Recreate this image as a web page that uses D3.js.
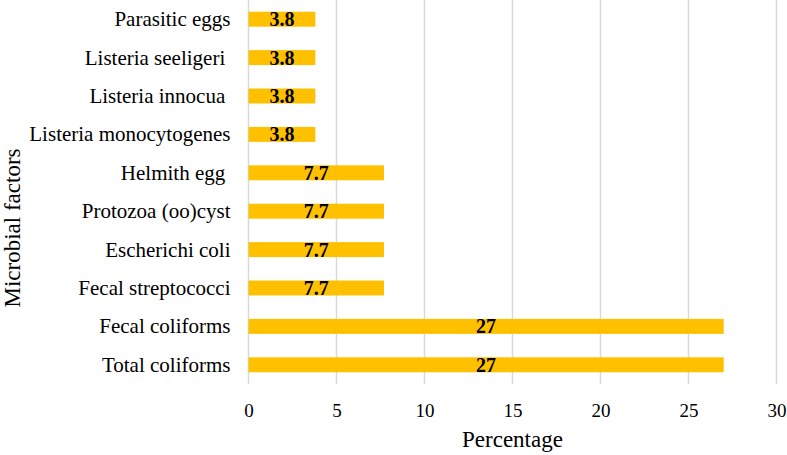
<!DOCTYPE html>
<html>
<head>
<meta charset="utf-8">
<script src="https://cdn.jsdelivr.net/npm/d3@7"></script>
<style>
  body { margin: 0; background: #fff; }
  svg text { font-family: "Liberation Serif", "Times New Roman", serif; fill: #000; }
</style>
</head>
<body>
<div id="chart"></div>
<script>
// categories top to bottom, with values (percentage)
let categories = [
  "Parasitic eggs",
  "Listeria seeligeri ",
  "Listeria innocua ",
  "Listeria monocytogenes",
  "Helmith egg ",
  "Protozoa (oo)cyst",
  "Escherichi coli",
  "Fecal streptococci",
  "Fecal coliforms",
  "Total coliforms"
];
let values = [3.8, 3.8, 3.8, 3.8, 7.7, 7.7, 7.7, 7.7, 27, 27];
let valueLabels = ["3.8", "3.8", "3.8", "3.8", "7.7", "7.7", "7.7", "7.7", "27", "27"];
let xTicks = [0, 5, 10, 15, 20, 25, 30];

let width = 787;
let height = 455;
const serif = '"Liberation Serif", "Times New Roman", serif';

let svg = d3.select("#chart")
  .append("svg")
  .attr("width", width).attr("height", height)
  .attr("font-family", serif);

let data = categories.map(function(c, i) {
  return { name: c, value: values[i], label: valueLabels[i] };
});

// scales
let xScale = d3.scaleLinear()
  .domain([0, 30])
  .range([248.5, 776.5]);

let yScale = d3.scaleBand()
  .domain(categories)
  .range([0, 384])
  .paddingInner(0.61)
  .paddingOuter(0.305);

// gridlines
svg.append("g")
  .selectAll(".grid")
  .data(xTicks)
  .enter()
  .append("line")
  .attr("class", "grid")
  .attr("x1", function(d) { return xScale(d); })
  .attr("x2", function(d) { return xScale(d); })
  .attr("y1", 0)
  .attr("y2", 384)
  .style("stroke", "#d9d9d9")
  .style("stroke-width", 1.5);

// bars
svg.append("g")
  .selectAll(".bar")
  .data(data)
  .enter()
  .append("rect")
  .attr("class", "bar")
  .attr("x", xScale(0))
  .attr("y", function(d) { return yScale(d.name); })
  .attr("width", function(d) { return xScale(d.value) - xScale(0); })
  .attr("height", yScale.bandwidth())
  .style("fill", "#ffc000");

// value labels in the middle of each bar
svg.append("g")
  .selectAll(".vlabel")
  .data(data)
  .enter()
  .append("text")
  .attr("class", "vlabel")
  .attr("x", function(d) { return (xScale(0) + xScale(d.value)) / 2; })
  .attr("y", function(d) { return yScale(d.name) + yScale.bandwidth() / 2; })
  .attr("dy", "0.35em")
  .style("text-anchor", "middle")
  .style("font-family", serif)
  .style("font-weight", "bold")
  .style("font-size", "20px")
  .text(function(d) { return d.label; });

// y axis (category labels only)
let yAxis = d3.axisLeft(yScale).tickSize(0).tickPadding(18);
svg.append("g")
  .attr("class", "yaxis")
  .attr("transform", "translate(" + xScale(0) + ",0)")
  .call(yAxis)
  .attr("font-family", serif)
  .attr("font-size", 21)
  .call(function(g) { g.select(".domain").remove(); })
  .selectAll("text")
  .style("font-family", serif)
  .style("white-space", "pre")
  .attr("dy", "0.33em");

// x axis (tick labels only)
let xAxis = d3.axisBottom(xScale).tickValues(xTicks).tickSize(0).tickPadding(20);
svg.append("g")
  .attr("class", "xaxis")
  .attr("transform", "translate(0,384)")
  .call(xAxis)
  .attr("font-family", serif)
  .attr("font-size", 19)
  .call(function(g) { g.select(".domain").remove(); })
  .selectAll("text")
  .style("font-family", serif);

// axis titles
svg.append("text")
  .attr("x", (xScale(0) + xScale(30)) / 2)
  .attr("y", 447)
  .style("text-anchor", "middle")
  .style("font-size", "23px")
  .text("Percentage");

svg.append("text")
  .attr("transform", "translate(20,228) rotate(-90)")
  .style("text-anchor", "middle")
  .style("font-size", "23px")
  .text("Microbial factors");
</script>
</body>
</html>
